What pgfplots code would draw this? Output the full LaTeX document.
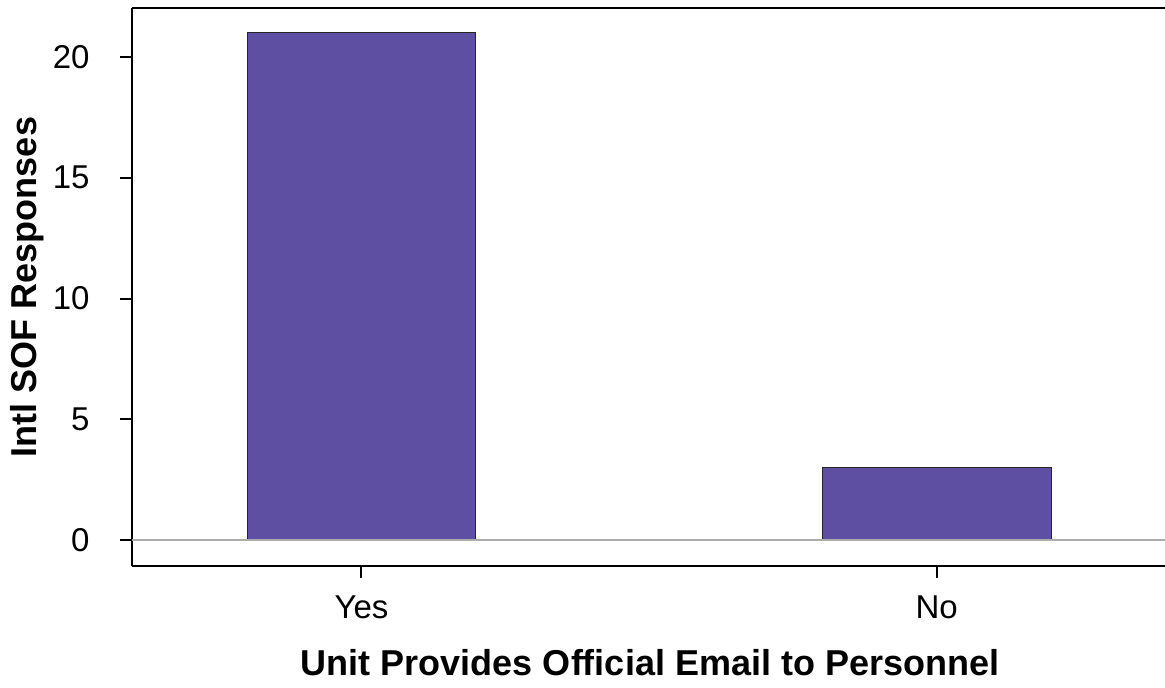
\documentclass[border=0pt]{standalone}
\usepackage{fontspec}
\setmainfont{Liberation Sans}
\usepackage{pgfplots}
\pgfplotsset{compat=1.18}
\definecolor{barpurple}{HTML}{5E4FA2}
\begin{document}
\begin{tikzpicture}
\begin{axis}[
  at={(0,0)}, anchor=south west,
  scale only axis, width=516.5pt, height=279pt,
  xmin=-0.399, xmax=1.397, ymin=-1.077, ymax=22.03,
  axis x line*=bottom, axis y line*=left,
  axis line style={line width=1pt, black},
  xtick={0,1}, xticklabels={Yes,No},
  ytick={0,5,10,15,20},
  tick align=outside, major tick length=6pt,
  tick style={line width=1pt, black},
  /pgf/number format/assume math mode=true,
  ticklabel style={font=\fontsize{16.5}{19}\selectfont},
  yticklabel style={anchor=east, inner sep=0pt, xshift=-15pt},
  xticklabel style={anchor=base, inner sep=0pt, yshift=-20pt},
  xlabel={Unit Provides Official Email to Personnel},
  ylabel={Intl SOF Responses},
  label style={font=\bfseries\fontsize{18}{21}\selectfont},
  xlabel style={at={(axis description cs:0.5015,-0.1971)}, anchor=base},
  ylabel style={at={(axis description cs:-0.092,0.5)}, anchor=base},
]
\addplot[ybar, bar width=0.398, fill=barpurple, draw=black!85, line width=0.5pt] coordinates {(0,21) (1,3)};
\addplot[gray!65, line width=0.75pt] coordinates {(-0.399,0) (1.397,0)};
\draw[line width=1pt] (rel axis cs:0,1) -- (rel axis cs:1,1);
\end{axis}
\pgfresetboundingbox
\useasboundingbox (-66pt,-60.5pt) rectangle (516.5pt,283pt);
\end{tikzpicture}
\end{document}
